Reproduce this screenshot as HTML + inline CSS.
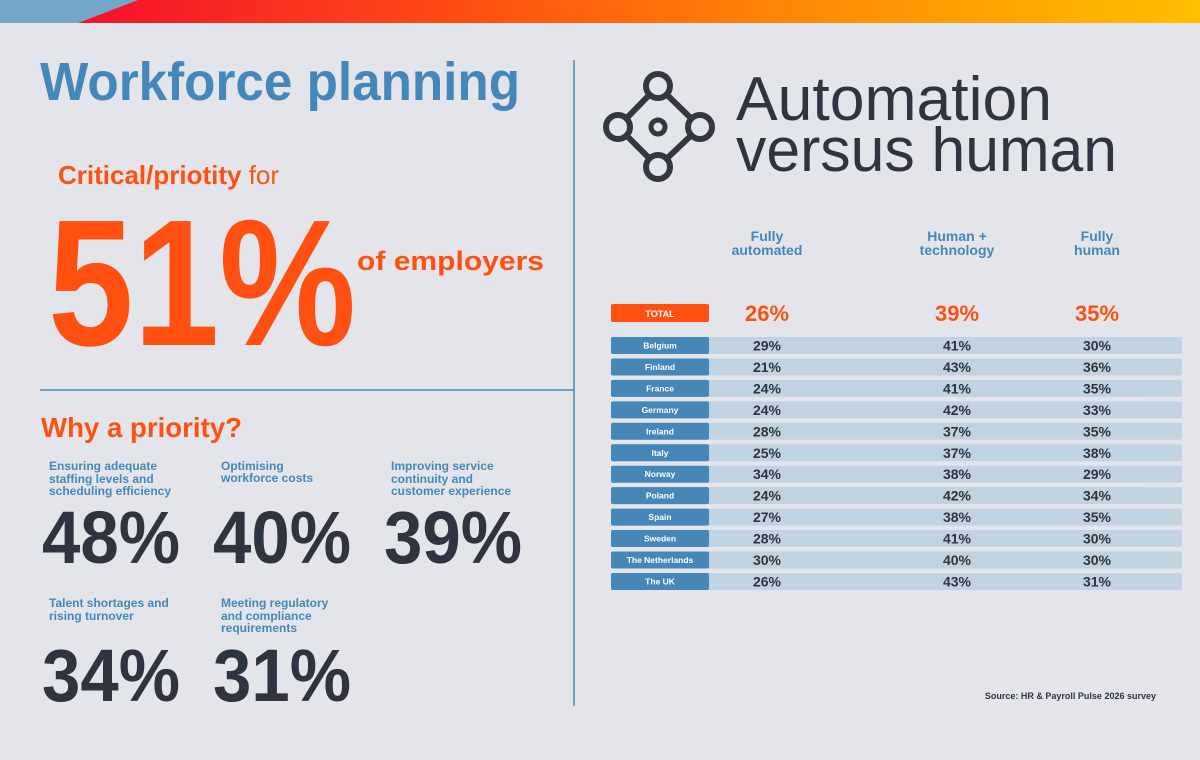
<!DOCTYPE html>
<html><head><meta charset="utf-8"><style>
html,body{margin:0;padding:0;background:#e4e5eb;}
svg{display:block;font-family:"Liberation Sans",sans-serif;}
</style></head><body>
<svg id="s" width="1200" height="760" viewBox="0 0 1200 760" xmlns="http://www.w3.org/2000/svg">
<defs>
<linearGradient id="g" x1="0" x2="1" y1="0" y2="0">
<stop offset="0" stop-color="#f5102e"/><stop offset="0.35" stop-color="#ff4f12"/><stop offset="0.65" stop-color="#ff8a05"/><stop offset="1" stop-color="#ffbf00"/>
</linearGradient>
</defs>
<rect width="1200" height="760" fill="#e4e5eb"/>
<rect x="0" y="0" width="1200" height="23" fill="#74a7c7"/>
<polygon points="138,0 1200,0 1200,23 78,23" fill="url(#g)"/>
<line x1="574" y1="60" x2="574" y2="706" stroke="#4d8ab8" stroke-width="1.5"/>
<line x1="40" y1="390" x2="574" y2="390" stroke="#4d8ab8" stroke-width="1.5"/>

<text x="40" y="100" font-size="54" font-weight="bold" fill="#4587b8" textLength="480" lengthAdjust="spacingAndGlyphs">Workforce planning</text>
<text x="58" y="184" font-size="26" fill="#ff5012"><tspan font-weight="bold">Critical/priotity</tspan> for</text>
<text x="48" y="345" font-size="180" font-weight="bold" fill="#ff5012" textLength="308" lengthAdjust="spacingAndGlyphs">51%</text>
<text x="357" y="270" font-size="27" font-weight="bold" fill="#ff5012" textLength="187" lengthAdjust="spacingAndGlyphs">of employers</text>
<text x="41" y="437" font-size="28" font-weight="bold" fill="#ff5012" textLength="201" lengthAdjust="spacingAndGlyphs">Why a priority?</text>

<g fill="#4587b8" font-size="12" font-weight="bold">
<text x="49" y="470">Ensuring adequate</text><text x="49" y="483">staffing levels and</text><text x="49" y="495">scheduling efficiency</text>
<text x="221" y="470">Optimising</text><text x="221" y="482">workforce costs</text>
<text x="391" y="470">Improving service</text><text x="391" y="483">continuity and</text><text x="391" y="495">customer experience</text>
<text x="49" y="607">Talent shortages and</text><text x="49" y="620">rising turnover</text>
<text x="221" y="607">Meeting regulatory</text><text x="221" y="620">and compliance</text><text x="221" y="632">requirements</text>
</g>
<g fill="#2e3440" font-size="74" font-weight="bold">
<text x="42" y="563" textLength="138" lengthAdjust="spacingAndGlyphs">48%</text>
<text x="213" y="563" textLength="138" lengthAdjust="spacingAndGlyphs">40%</text>
<text x="384" y="563" textLength="138" lengthAdjust="spacingAndGlyphs">39%</text>
<text x="42" y="701" textLength="138" lengthAdjust="spacingAndGlyphs">34%</text>
<text x="213" y="701" textLength="138" lengthAdjust="spacingAndGlyphs">31%</text>
</g>

<g stroke="#333840" stroke-width="6" fill="none">
<line x1="658" y1="86" x2="618" y2="127"/><line x1="658" y1="86" x2="700" y2="127"/>
<line x1="618" y1="127" x2="658" y2="167"/><line x1="700" y1="127" x2="658" y2="167"/>
<circle cx="658" cy="86" r="12" fill="#e4e5eb"/><circle cx="618" cy="127" r="12" fill="#e4e5eb"/>
<circle cx="700" cy="127" r="12" fill="#e4e5eb"/><circle cx="658" cy="167" r="12" fill="#e4e5eb"/>
<circle cx="658" cy="127" r="7" stroke-width="5"/>
</g>
<text x="736" y="120" font-size="62" fill="#2e3440" textLength="316" lengthAdjust="spacingAndGlyphs">Automation</text>
<text x="736" y="171" font-size="62" fill="#2e3440" textLength="381" lengthAdjust="spacingAndGlyphs">versus human</text>

<g fill="#4587b8" font-size="14" font-weight="bold" text-anchor="middle">
<text x="767" y="241">Fully</text><text x="767" y="255">automated</text>
<text x="957" y="241">Human +</text><text x="957" y="255">technology</text>
<text x="1097" y="241">Fully</text><text x="1097" y="255">human</text>
</g>
<g id="table"></g>
<text x="1156" y="699" font-size="9" font-weight="bold" fill="#2e3440" text-anchor="end">Source: HR &amp; Payroll Pulse 2026 survey</text>
</svg>
<script>
const countries=["Belgium","Finland","France","Germany","Ireland","Italy","Norway","Poland","Spain","Sweden","The Netherlands","The UK"];
const fullyAutomated=[29,21,24,24,28,25,34,24,27,28,30,26];
const humanTech=[41,43,41,42,37,37,38,42,38,41,40,43];
const fullyHuman=[30,36,35,33,35,38,29,34,35,30,30,31];
const totals=[26,39,35];
const NS="http://www.w3.org/2000/svg";
const g=document.getElementById('table');
const colX=[767,957,1097];
const rowY=i=>345.5+i*21.45;
function mk(t,a){const e=document.createElementNS(NS,t);for(const k in a)e.setAttribute(k,a[k]);g.appendChild(e);return e;}
let tb=mk('rect',{x:611,y:304,width:98,height:18,rx:2,fill:'#ff5012'});


let tt=mk('text',{x:660,y:317,'font-size':9,'font-weight':'bold',fill:'#fff','text-anchor':'middle'});tt.textContent='TOTAL';


totals.forEach((v,j)=>{const t=mk('text',{x:colX[j],y:321,'font-size':22,'font-weight':'bold',fill:'#ff5012','text-anchor':'middle'});t.textContent=v+'%';

});
countries.forEach((c,i)=>{
 const y=rowY(i);
 const bar=mk('rect',{x:611,y:y-8.5,width:571,height:17,rx:2,fill:'#c1d3e1'});
 
 
 const lb=mk('rect',{x:611,y:y-8.5,width:98,height:17,rx:2,fill:'#4587b8'});
 
 
 const lt=mk('text',{x:660,y:y+3,'font-size':8.5,'font-weight':'bold',fill:'#fff','text-anchor':'middle'});lt.textContent=c;
 
 
 [fullyAutomated[i],humanTech[i],fullyHuman[i]].forEach((v,j)=>{
  const t=mk('text',{x:colX[j],y:y+5,'font-size':14,'font-weight':'bold',fill:'#2e3440','text-anchor':'middle'});t.textContent=v+'%';
  
  
 });
});
</script>
</body></html>
